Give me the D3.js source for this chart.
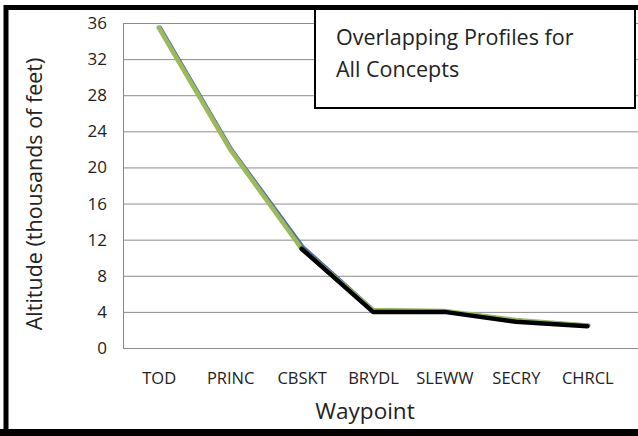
<!DOCTYPE html>
<html>
<head>
<meta charset="utf-8">
<script src="https://cdn.jsdelivr.net/npm/d3@7"></script>
<style>
  body { margin: 0; background: #fff; }
  text { font-family: "Open Sans", sans-serif; fill: #222; }
</style>
</head>
<body>
<div id="chart"></div>
<script>
/* Overlapping altitude profiles */

const width = 638,
    height = 436,
    margin = ({ top: 23, right: 15, bottom: 88, left: 123 });

const waypoints = ["TOD", "PRINC", "CBSKT", "BRYDL", "SLEWW", "SECRY", "CHRCL"];
const yTicks = [0, 4, 8, 12, 16, 20, 24, 28, 32, 36];

// three overlapping concepts (null = no point)
const blueProfile  = [35.5, 22.0, 11.2, 4.1, 4.0, 3.0, 2.5];
const greenProfile = [35.5, 22.0, 11.0, 4.2, 4.1, 3.1, 2.5];
const blackProfile = [null, null, 11.0, 4.0, 4.0, 2.9, 2.4];

const series = [
  { name: "blue", values: blueProfile, color: "#4f6fae", w: 4, dx: 1.2 },
  { name: "green", values: greenProfile, color: "#9bbb59", w: 4.5, dx: 0 },
  { name: "black", values: blackProfile, color: "#000", w: 4.5, dx: 0 }
];

const svg = d3.select("#chart")
  .append("svg")
  .attr("width", width)
  .attr("height", height);

let x = d3.scalePoint()
  .domain(waypoints)
  .range([margin.left, width - margin.right])
  .padding(0.5);

let y = d3.scaleLinear()
  .domain([0, 36])
  .range([height - margin.bottom, margin.top]);

/* gridlines + y labels */
const yAxis = svg.append("g")
  .attr("transform", `translate(${margin.left},0)`)
  .call(d3.axisLeft(y)
    .tickValues(yTicks)
    .tickSize(-(width - margin.left))
    .tickPadding(16));
yAxis.select(".domain").attr("stroke", "#888");
yAxis.selectAll(".tick line").attr("stroke", "#8c8c8c");
yAxis.selectAll(".tick text")
  .attr("font-size", 17)
  .attr("font-family", "Open Sans, sans-serif")
  .attr("fill", "#222");

/* x labels */
const xAxis = svg.append("g")
  .attr("transform", `translate(0,${height - margin.bottom})`)
  .call(d3.axisBottom(x).tickSize(0).tickPadding(24));
xAxis.select(".domain").remove();
xAxis.selectAll(".tick text")
  .attr("font-size", 16.5)
  .attr("font-family", "Open Sans, sans-serif")
  .attr("fill", "#222");

/* the profiles */
for (let s of series) {
  let line = d3.line()
    .defined(d => d != null)
    .x((d, i) => x(waypoints[i]) + s.dx)
    .y(d => y(d));
  svg.append("path")
    .datum(s.values)
    .attr("d", line)
    .attr("fill", "none")
    .attr("stroke", s.color)
    .attr("stroke-width", s.w)
    .attr("stroke-linecap", "round")
    .attr("stroke-linejoin", "round");
}

/* axis titles */
svg.append("text")
  .attr("text-anchor", "middle")
  .attr("transform", `translate(42,194) rotate(-90)`)
  .attr("font-size", 21.5)
  .text("Altitude (thousands of feet)");

svg.append("text")
  .attr("text-anchor", "middle")
  .attr("x", 365)
  .attr("y", 419)
  .attr("font-size", 22.5)
  .text("Waypoint");

/* title box */
svg.append("rect")
  .attr("x", 315)
  .attr("y", 8)
  .attr("width", 320)
  .attr("height", 100)
  .attr("fill", "#fff")
  .attr("stroke", "#000")
  .attr("stroke-width", 2);

svg.append("text")
  .attr("x", 337)
  .attr("font-size", 21.5)
  .selectAll("tspan")
  .data(["Overlapping Profiles for", "All Concepts"])
  .join("tspan")
  .attr("x", 336)
  .attr("y", (d, i) => 45 + i * 32)
  .text(d => d);

/* outer frame */
svg.append("path")
  .attr("d", `M6,${height + 10} V7.5 H${width + 10}`)
  .attr("fill", "none")
  .attr("stroke", "#000")
  .attr("stroke-width", 5);
svg.append("line")
  .attr("x1", 0).attr("x2", width)
  .attr("y1", 432.5).attr("y2", 432.5)
  .attr("stroke", "#000")
  .attr("stroke-width", 7);
</script>
</body>
</html>
